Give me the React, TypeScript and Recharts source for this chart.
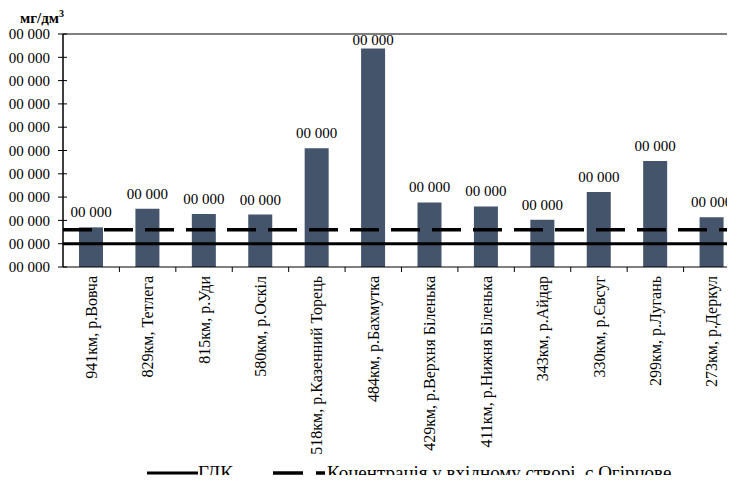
import React from "react";
import {Bar, BarChart, LabelList, Legend, ReferenceLine, XAxis, YAxis} from "recharts";

// Пункти спостереження (р. Сіверський Донець та притоки)
const categories = [
    "941км, р.Вовча",
    "829км,  Тетлега",
    "815км, р.Уди",
    "580км, р.Оскіл",
    "518км, р.Казенний Торець",
    "484км, р.Бахмутка",
    "429км, р.Верхня Біленька",
    "411км, р.Нижня Біленька",
    "343км, р.Айдар",
    "330км, р.Євсуг",
    "299км, р.Лугань",
    "273км, р.Деркул",
];
const values = [1.7, 2.5, 2.27, 2.25, 5.1, 9.38, 2.77, 2.6, 2.03, 3.22, 4.55, 2.13];
const gdk = 1;
const inletConc = 1.6;
const yTicks = [0, 1, 2, 3, 4, 5, 6, 7, 8, 9, 10];
const numLabel = "00 000"; // так підписано у джерелі
const legendNames = ["ГДК", "Коцентрація у вхідному створі, с.Огірцове"];

const data = categories.map((name, i) => ({name, value: values[i]}));

const FONT = "'Liberation Serif', 'Times New Roman', serif";
const PLOT_TOP = 34;

function XTick(props) {
    const {x, y, payload} = props;
    const half = payload.offset || 0;
    const axisY = y - 9;
    return (
        <g>
            <line x1={x + half} x2={x + half} y1={axisY} y2={axisY + 5} stroke="#000"/>
            <g transform={`translate(${x},${y})`}>
                <text transform="rotate(-90)" textAnchor="end" dy="0.35em"
                      style={{fontSize: 16, fontFamily: FONT}} fill="#000">{payload.value}</text>
            </g>
        </g>
    );
}

// поділки осі Y перетинають вісь, як в Excel
function YTick(props) {
    const {x, y} = props;
    return (
        <g>
            <line x1={x + 8} x2={x + 17} y1={y} y2={y} stroke="#000"/>
            <text x={x} y={y} dy="0.35em" textAnchor="end" style={{fontSize: 15, fontFamily: FONT}} fill="#000">
                {numLabel}
            </text>
        </g>
    );
}

function BarLabel(props) {
    const {x, y, width} = props;
    // як в Excel: підпис не виходить за верх області побудови
    const ty = Math.max(y - 10, PLOT_TOP + 11);
    return (
        <text x={x + width / 2} y={ty} textAnchor="middle" style={{fontSize: 15, fontFamily: FONT}} fill="#000">
            {numLabel}
        </text>
    );
}

function LegendBox() {
    return (
        <div style={{display: "flex", alignItems: "center", paddingLeft: 147, fontFamily: FONT, fontSize: 19,
            lineHeight: "21px", color: "#000", whiteSpace: "nowrap"}}>
            <svg width={51} height={6}>
                <line x1={0} x2={51} y1={3} y2={3} stroke="#000" strokeWidth={3}/>
            </svg>
            <span>{legendNames[0]}</span>
            <svg width={52} height={6} style={{marginLeft: 40}}>
                <line x1={0} x2={52} y1={3} y2={3} stroke="#000" strokeWidth={3.5} strokeDasharray="30 13"/>
            </svg>
            <span style={{marginLeft: 2}}>{legendNames[1]}</span>
        </div>
    );
}

export default function App() {
    return (
        <div style={{margin: -8, width: 735, height: 483, overflow: "hidden", position: "relative",
            background: "#fff", fontFamily: FONT}}>
            <div style={{position: "absolute", left: 20, top: 11, fontFamily: FONT, fontWeight: "bold", fontSize: 15,
                lineHeight: "14px", zIndex: 2}}>
                мг/дм<span style={{fontSize: 10, position: "relative", top: -6}}>3</span>
            </div>
            <BarChart width={740} height={483} data={data}
                      margin={{top: PLOT_TOP, right: 0, bottom: 0, left: 0}} barSize={24}>
                <XAxis dataKey="name" interval={0} height={195} tickLine={false} tickSize={0} tickMargin={9}
                       tick={<XTick/>} axisLine={{stroke: "#000"}}/>
                <YAxis domain={[0, 10]} ticks={yTicks} width={63} interval={0} tickSize={5} tickMargin={8}
                       axisLine={{stroke: "#000", strokeWidth: 1.5}} tickLine={false} tick={<YTick/>}/>
                <ReferenceLine y={10} stroke="#555" strokeWidth={1.5}/>
                <Bar dataKey="value" fill="#44546A" isAnimationActive={false}>
                    <LabelList dataKey="value" content={<BarLabel/>}/>
                </Bar>
                <ReferenceLine y={gdk} stroke="#000" strokeWidth={3}/>
                <ReferenceLine y={inletConc} stroke="#000" strokeWidth={3.5} strokeDasharray="29 12"/>
                <Legend verticalAlign="bottom" height={21} content={<LegendBox/>}
                        wrapperStyle={{left: 0, top: 462, width: 735}}/>
            </BarChart>
        </div>
    );
}
